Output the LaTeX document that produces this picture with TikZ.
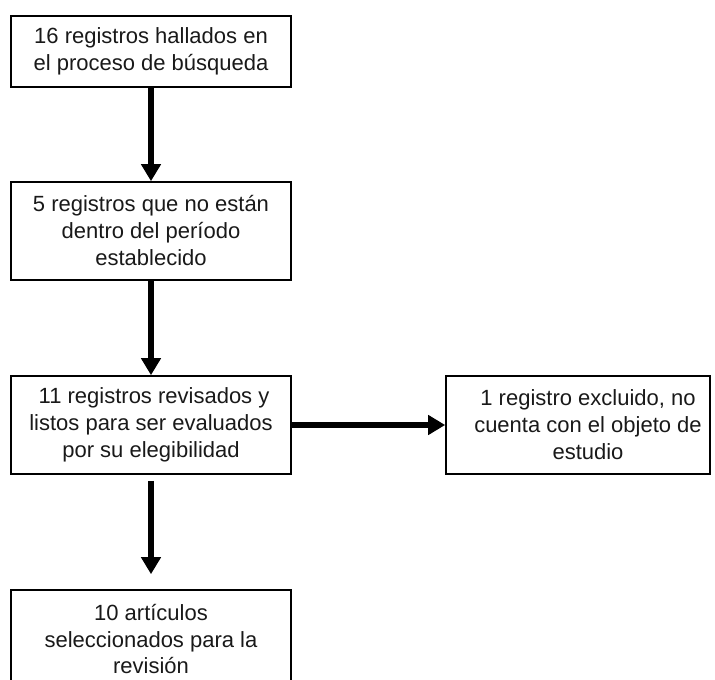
\documentclass[tikz,border=0pt]{standalone}
\usepackage{fontspec}
\setmainfont{Liberation Sans}
\usetikzlibrary{arrows.meta}
\begin{document}
\begin{tikzpicture}[x=1pt,y=-1pt,
  box/.style={draw=black,line width=1.6pt,inner sep=0pt,minimum width=280pt,align=center,
    font=\fontsize{22pt}{27pt}\selectfont,text=black!90},
  txt/.style={inner sep=0pt,align=center,font=\fontsize{22pt}{27pt}\selectfont,text=black!90},
  flow/.style={line width=6pt,-{Triangle[width=19pt,length=17pt]}}]
\useasboundingbox (0,0) rectangle (715,680);
\clip (0,0) rectangle (715,680);
\node[box,minimum height=71pt] (b1) at (151,51.5) {16 registros hallados en\\el proceso de búsqueda};
\node[box,minimum height=98pt] (b2) at (151,231) {5 registros que no están\\dentro del período\\establecido};
\node[box,minimum height=98pt] (b3) at (151,425) {\ 11 registros revisados y\\listos para ser evaluados\\por su elegibilidad};
\node[box,minimum height=98pt,minimum width=264pt] (b4) at (578,425) {};
\node[txt] (t4) at (588,425) {1 registro excluido, no\\cuenta con el objeto de\\estudio};
\node[box,minimum height=98pt] (b5) at (151,639) {10 artículos\\seleccionados para la\\revisión};
\draw[flow] (b1.south) -- (b2.north);
\draw[flow] (b2.south) -- (b3.north);
\draw[flow,shorten <=6pt,shorten >=15pt] (b3.south) -- (b5.north);
\draw[flow] (b3.east) -- (b4.west);
\end{tikzpicture}
\end{document}
